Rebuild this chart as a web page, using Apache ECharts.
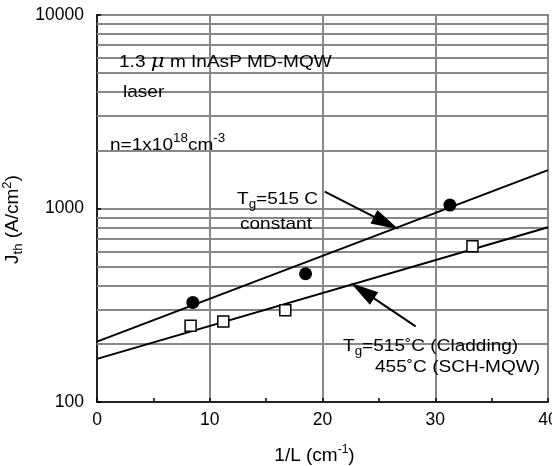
<!DOCTYPE html>
<html><head><meta charset="utf-8">
<script src="https://cdn.jsdelivr.net/npm/echarts@6/dist/echarts.min.js"></script>
<style>html,body{margin:0;padding:0;background:#fff}#c{width:552px;height:466px}</style>
</head><body><div id="c"></div>
<script>
// ---- data ----
const xTickLabels = [0, 10, 20, 30, 40];
const yTickLabels = [100, 1000, 10000];
const yMinorGrid = [200,300,400,500,600,700,800,900,2000,3000,4000,5000,6000,7000,8000,9000];
const circleX = [8.5, 18.5, 31.3];      // Tg = 515 C constant
const circleY = [327, 460, 1042];
const squareX = [8.3, 11.2, 16.7, 33.3]; // Tg = 515/455 C
const squareY = [248, 261, 298, 638];
const fitConstX = [0, 40];
const fitConstY = [205, 1580];
const fitSchX = [0, 40];
const fitSchY = [167, 800];
const arrowConstFrom = [20.2, 1222];
const arrowConstTo = [25.67, 841];
const arrowSchFrom = [28.26, 246];
const arrowSchTo = [23.54, 376];

const FONT = "'Liberation Sans', Arial, sans-serif";
const zip = (xs, ys) => xs.map((x, i) => [x, ys[i]]);

const chart = echarts.init(document.getElementById('c'), null, {renderer: 'canvas'});
const gridGray = '#888888';
const SX = 1.12;
const richBase = {
  a: {fontSize: 17, fontFamily: FONT, color: '#000', lineHeight: 24, verticalAlign: 'middle'},
  s: {fontSize: 12, fontFamily: FONT, color: '#000', lineHeight: 12, verticalAlign: 'bottom'},
  p: {fontSize: 12, fontFamily: FONT, color: '#000', lineHeight: 12, verticalAlign: 'top'},
  u: {fontSize: 19, fontFamily: "'DejaVu Serif', serif", fontStyle: 'italic', color: '#000', lineHeight: 24, verticalAlign: 'middle'}
};
function txt(x, y, text) {
  return {type: 'text', x: x, y: y, scaleX: SX, z: 100,
    style: {text: text, rich: richBase, verticalAlign: 'middle', align: 'left', fill: '#000'}};
}

chart.setOption({
  animation: false,
  backgroundColor: '#fff',
  grid: {left: 97, right: 4, top: 15, bottom: 64, containLabel: false, outerBoundsMode: 'none',
         show: true, borderColor: '#000', borderWidth: 1.5, backgroundColor: 'transparent'},
  xAxis: {
    type: 'value', min: xTickLabels[0], max: xTickLabels[xTickLabels.length - 1], interval: 10,
    name: '{a|1/L (cm}{p|-1}{a|)}', nameLocation: 'middle', nameGap: 42,
    nameTextStyle: {padding: [0, 16, 0, 0], rich: {
      a: {fontSize: 19, fontFamily: FONT, color: '#000', lineHeight: 24},
      p: {fontSize: 12, fontFamily: FONT, color: '#000', lineHeight: 12, verticalAlign: 'top'}
    }},
    axisLine: {show: true, lineStyle: {color: '#000', width: 1.5}},
    axisTick: {show: true, inside: true, length: 4, lineStyle: {color: '#000', width: 1.5}},
    minorTick: {show: true, splitNumber: 2, length: 4, lineStyle: {color: '#000', width: 1.5}},
    splitLine: {show: true, lineStyle: {color: gridGray, width: 2}},
    axisLabel: {fontSize: 17.5, fontFamily: FONT, color: '#000', margin: 9, formatter: v => String(v)}
  },
  yAxis: {
    type: 'log', logBase: 10, min: yTickLabels[0], max: yTickLabels[yTickLabels.length - 1],
    name: '{a|J}{s|th}{a| (A/cm}{p|2}{a|)}', nameLocation: 'middle', nameGap: 55, nameRotate: 90,
    nameTextStyle: {padding: [0, 22, 0, 0], rich: {
      a: {fontSize: 19, fontFamily: FONT, color: '#000', lineHeight: 24},
      s: {fontSize: 13, fontFamily: FONT, color: '#000', lineHeight: 12, verticalAlign: 'bottom'},
      p: {fontSize: 13, fontFamily: FONT, color: '#000', lineHeight: 12, verticalAlign: 'top'}
    }},
    axisLine: {show: true, lineStyle: {color: '#000', width: 1.5}},
    axisTick: {show: true, inside: true, length: 4, lineStyle: {color: '#000', width: 1.5}},
    splitLine: {show: true, lineStyle: {color: gridGray, width: 2}},
    axisLabel: {fontSize: 17.5, fontFamily: FONT, color: '#000', margin: 13, formatter: v => String(Math.round(v))}
  },
  series: [
    {type: 'line', data: [], z: 1, silent: true,
     markLine: {silent: true, symbol: 'none', label: {show: false}, animation: false,
       lineStyle: {color: gridGray, width: 2, type: 'solid'},
       data: yMinorGrid.map(v => ({yAxis: v}))}},
    {type: 'line', data: zip(fitConstX, fitConstY), showSymbol: false, symbol: 'none', z: 5,
     lineStyle: {color: '#000', width: 2}},
    {type: 'line', data: zip(fitSchX, fitSchY), showSymbol: false, symbol: 'none', z: 5,
     lineStyle: {color: '#000', width: 2}},
    {type: 'scatter', data: zip(circleX, circleY), symbol: 'circle', symbolSize: 13, z: 6,
     itemStyle: {color: '#000', opacity: 1}},
    {type: 'scatter', data: zip(squareX, squareY), symbol: 'rect', symbolSize: 11, z: 6,
     itemStyle: {color: '#fff', borderColor: '#000', borderWidth: 1.5, opacity: 1}},
    {type: 'line', data: [], z: 7,
     markLine: {silent: true, symbol: ['none', 'triangle'], symbolSize: [15, 28], label: {show: false}, animation: false,
       lineStyle: {color: '#000', width: 2, type: 'solid'}, itemStyle: {color: '#000'},
       data: [
         [{coord: arrowConstFrom}, {coord: arrowConstTo}],
         [{coord: arrowSchFrom}, {coord: arrowSchTo}]
       ]}}
  ],
  graphic: [
    txt(119, 62, '{a|1.3 }{u|μ}{a| m InAsP MD-MQW}'),
    txt(123, 92, '{a|laser}'),
    txt(110, 145, '{a|n=1x10}{p|18}{a|cm}{p|-3}'),
    txt(237, 199, '{a|T}{s|g}{a|=515 C}'),
    txt(240, 224, '{a|constant}'),
    txt(343, 346, '{a|T}{s|g}{a|=515˚C (Cladding)}'),
    txt(375, 367, '{a|455˚C (SCH-MQW)}')
  ]
});
</script></body></html>
